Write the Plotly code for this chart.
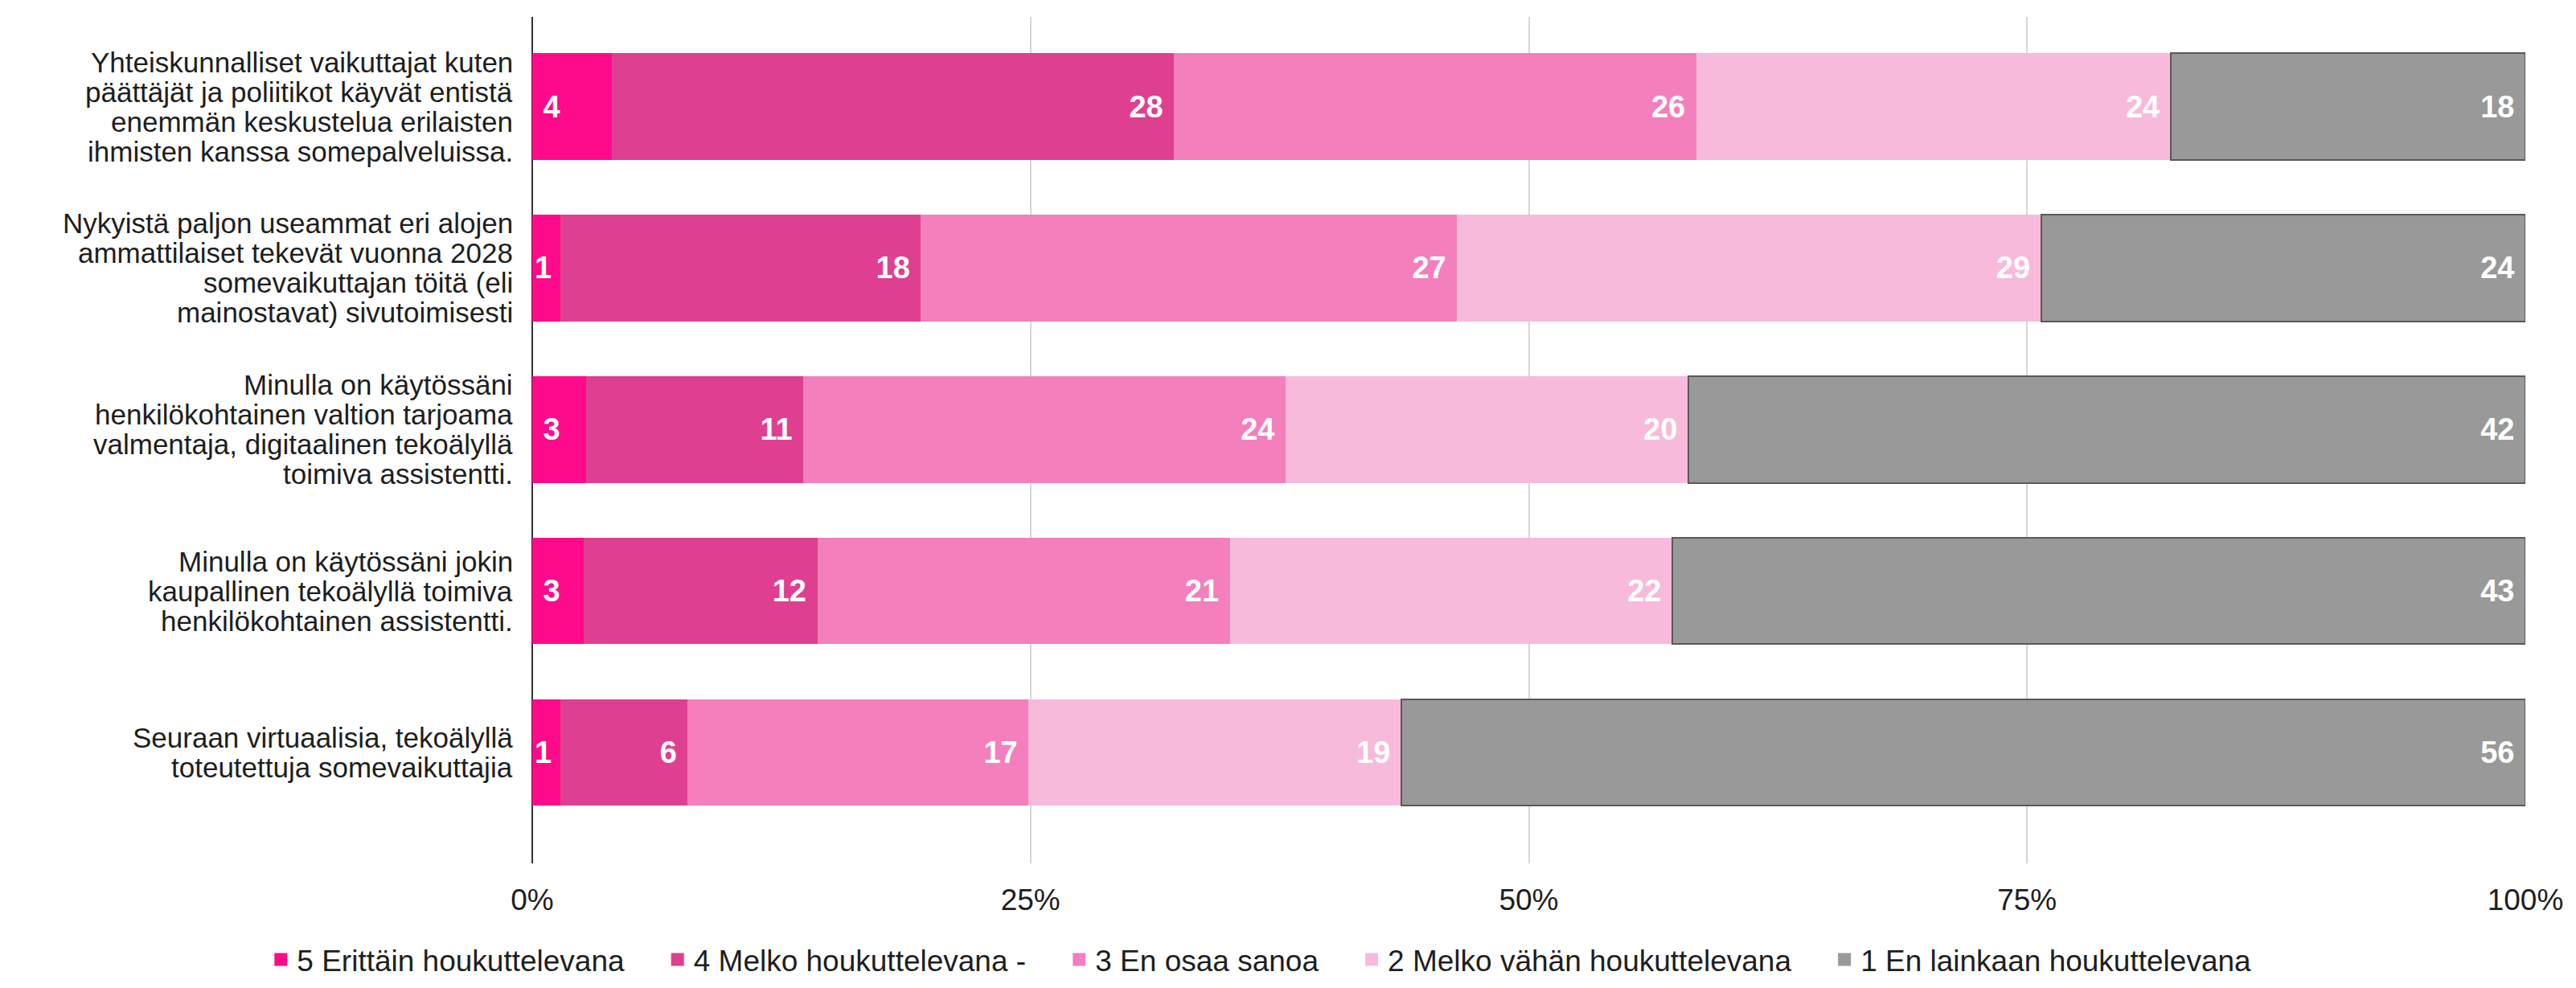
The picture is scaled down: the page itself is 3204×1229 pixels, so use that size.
import plotly.graph_objects as go

# ---------------- data ----------------
categories = [
    "Yhteiskunnalliset vaikuttajat kuten\npäättäjät ja poliitikot käyvät entistä\nenemmän keskustelua erilaisten\nihmisten kanssa somepalveluissa.",
    "Nykyistä paljon useammat eri alojen\nammattilaiset tekevät vuonna 2028\nsomevaikuttajan töitä (eli\nmainostavat) sivutoimisesti",
    "Minulla on käytössäni\nhenkilökohtainen valtion tarjoama\nvalmentaja, digitaalinen tekoälyllä\ntoimiva assistentti.",
    "Minulla on käytössäni jokin\nkaupallinen tekoälyllä toimiva\nhenkilökohtainen assistentti.",
    "Seuraan virtuaalisia, tekoälyllä\ntoteutettuja somevaikuttajia",
]
series_names = [
    "5 Erittäin houkuttelevana",
    "4 Melko houkuttelevana -",
    "3 En osaa sanoa",
    "2 Melko vähän houkuttelevana",
    "1 En lainkaan houkuttelevana",
]
s5 = [4.0, 1.4, 2.7, 2.6, 1.4]
s4 = [28.2, 18.1, 10.9, 11.7, 6.4]
s3 = [26.2, 26.9, 24.2, 20.7, 17.1]
s2 = [23.8, 29.3, 20.2, 22.2, 18.7]
s1 = [17.8, 24.3, 42.0, 42.8, 56.4]
labels5 = [4, 1, 3, 3, 1]
labels4 = [28, 18, 11, 12, 6]
labels3 = [26, 27, 24, 21, 17]
labels2 = [24, 29, 20, 22, 19]
labels1 = [18, 24, 42, 43, 56]
x_ticks = [0, 25, 50, 75, 100]
x_ticktext = ["0%", "25%", "50%", "75%", "100%"]

colors = ["#FF0A8A", "#DF3F91", "#F47FBD", "#F8BADB", "#999999"]
FONT = "Liberation Sans, Arial, Helvetica, sans-serif"

cat_keys = [c.replace("\n", " ") for c in categories]
values = [s5, s4, s3, s2, s1]
labels = [labels5, labels4, labels3, labels2, labels1]

fig = go.Figure()
NB = "\u00a0"
for i, (name, vals, labs, col) in enumerate(zip(series_names, values, labels, colors)):
    if i == 0:
        tmpl = [(NB + "%{text}") if v >= 2.5 else "%{text}" for v in vals]
        anchor = "start"
    else:
        tmpl = "%{text}" + NB
        anchor = "end"
    fig.add_trace(go.Bar(
        y=cat_keys, x=vals, orientation="h", name=name,
        marker=dict(color=col,
                    line=dict(color="#595959" if i == 4 else col, width=2 if i == 4 else 0)),
        text=[str(l) for l in labs], texttemplate=tmpl,
        textposition="inside", insidetextanchor=anchor,
        textfont=dict(family=FONT, size=38, color="white", weight="bold"),
        showlegend=False, hoverinfo="skip",
    ))
    # legend proxy with larger square symbol
    fig.add_trace(go.Scatter(
        x=[None], y=[None], mode="markers",
        name=name + (NB * 4 if i < 4 else ""),
        marker=dict(symbol="square", size=20, color=col),
        showlegend=True, hoverinfo="skip",
    ))

# category labels (multi-line, tight line spacing)
LINE = 37
for key, cat in zip(cat_keys, categories):
    lines = cat.split("\n")
    n = len(lines)
    for j, ln in enumerate(lines):
        fig.add_annotation(
            x=0, xref="paper", xanchor="right", xshift=-22,
            y=key, yref="y", yanchor="middle",
            yshift=((n - 1) / 2 - j) * LINE,
            text=ln, showarrow=False, align="right",
            font=dict(family=FONT, size=35, color="#1e1e1e"),
        )

fig.update_layout(
    width=3204, height=1229,
    barmode="stack", bargap=0.34,
    margin=dict(l=654, r=71, t=13, b=141),
    plot_bgcolor="white", paper_bgcolor="white",
    font=dict(family=FONT, size=36, color="#1e1e1e"),
    legend=dict(
        orientation="h", x=-0.1342, xanchor="left", y=-0.114, yanchor="middle",
        font=dict(family=FONT, size=37, color="#1e1e1e"),
        itemsizing="trace", tracegroupgap=0, itemwidth=30,
        traceorder="normal",
    ),
    xaxis=dict(
        range=[0, 100], tickvals=x_ticks, ticktext=x_ticktext,
        showgrid=True, gridcolor="#d6d6d6", gridwidth=2,
        zeroline=True, zerolinecolor="#333333", zerolinewidth=2,
        tickfont=dict(family=FONT, size=37, color="#1e1e1e"),
        ticks="", ticklabelstandoff=20, fixedrange=True,
    ),
    yaxis=dict(
        categoryorder="array", categoryarray=cat_keys,
        range=[4.688, -0.556], showticklabels=False, showgrid=False,
        zeroline=False, fixedrange=True,
    ),
)

fig.write_html("out.html")
